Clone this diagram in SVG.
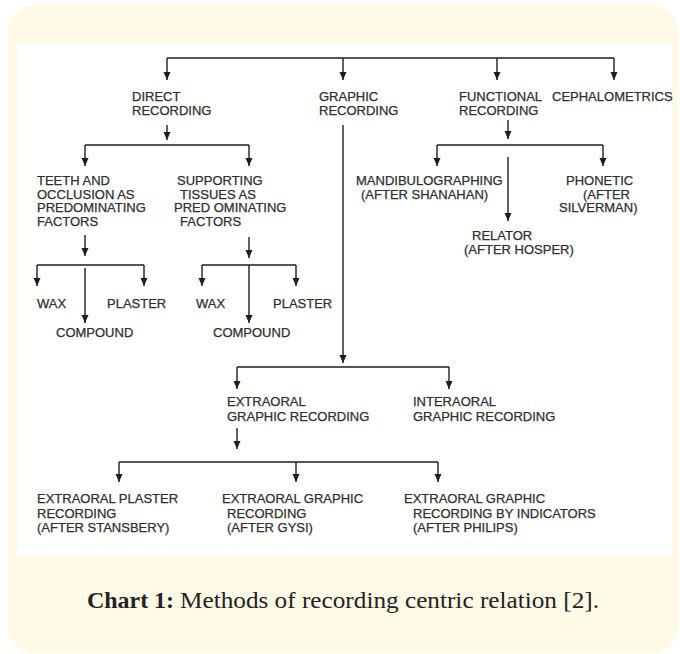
<svg xmlns="http://www.w3.org/2000/svg" width="680" height="654" viewBox="0 0 680 654">
<style>
.t{font-family:"Liberation Sans",Arial,sans-serif;font-size:13px;fill:#2e2e2e;stroke:#2e2e2e;stroke-width:0.25}
.c{stroke:#1e1e1e;stroke-width:1.4;fill:none}
.cap{font-family:"Liberation Serif","Times New Roman",serif;font-size:23px;fill:#222}
</style>
<defs>
<marker id="a" markerUnits="userSpaceOnUse" markerWidth="8" markerHeight="9" refX="8" refY="4" orient="auto" viewBox="0 0 8 8">
<path d="M0,0.5 L8,4 L0,7.5 Z" fill="#1e1e1e"/>
</marker>
</defs>
<rect x="8" y="5" width="670" height="648" rx="26" fill="#fffae6"/>
<rect x="17" y="44" width="655" height="512" fill="#ffffff"/>

<g id="connectors" class="c">
<path d="M167,58 H614"/>
<path d="M167,58 V80" marker-end="url(#a)"/>
<path d="M343,58 V80" marker-end="url(#a)"/>
<path d="M497,58 V80" marker-end="url(#a)"/>
<path d="M614,58 V80" marker-end="url(#a)"/>
<path d="M167,125 V140" marker-end="url(#a)"/>
<path d="M85,145 H249"/>
<path d="M85,145 V166" marker-end="url(#a)"/>
<path d="M249,145 V166" marker-end="url(#a)"/>
<path d="M508,120 V139" marker-end="url(#a)"/>
<path d="M437,145 H603"/>
<path d="M437,145 V166" marker-end="url(#a)"/>
<path d="M603,145 V166" marker-end="url(#a)"/>
<path d="M508,157 V221" marker-end="url(#a)"/>
<path d="M85,235 V256" marker-end="url(#a)"/>
<path d="M249,237 V258" marker-end="url(#a)"/>
<path d="M37,265 H144"/>
<path d="M37,265 V286" marker-end="url(#a)"/>
<path d="M144,265 V286" marker-end="url(#a)"/>
<path d="M85,268 V323" marker-end="url(#a)"/>
<path d="M202,265 H296"/>
<path d="M202,265 V286" marker-end="url(#a)"/>
<path d="M296,265 V286" marker-end="url(#a)"/>
<path d="M249,265 V323" marker-end="url(#a)"/>
<path d="M343,125 V363" marker-end="url(#a)"/>
<path d="M237,367 H449"/>
<path d="M237,367 V389" marker-end="url(#a)"/>
<path d="M449,367 V389" marker-end="url(#a)"/>
<path d="M237,428 V449" marker-end="url(#a)"/>
<path d="M119,462 H438"/>
<path d="M119,462 V482" marker-end="url(#a)"/>
<path d="M296,462 V482" marker-end="url(#a)"/>
<path d="M438,462 V482" marker-end="url(#a)"/>
</g>

<g id="direct-recording" class="t"><text x="132" y="100.5">DIRECT</text><text x="132" y="114.5">RECORDING</text></g>
<g id="graphic-recording" class="t"><text x="319" y="100.5">GRAPHIC</text><text x="319" y="114.5">RECORDING</text></g>
<g id="functional-recording" class="t"><text x="459" y="100.5">FUNCTIONAL</text><text x="459" y="114.5">RECORDING</text></g>
<g id="cephalometrics" class="t"><text x="552" y="100.5">CEPHALOMETRICS</text></g>

<g id="teeth-occlusion" class="t"><text x="37" y="185">TEETH AND</text><text x="37" y="198.5">OCCLUSION AS</text><text x="37" y="212">PREDOMINATING</text><text x="37" y="225.5">FACTORS</text></g>
<g id="supporting-tissues" class="t"><text x="177" y="185">SUPPORTING</text><text x="180" y="198.5">TISSUES AS</text><text x="174" y="212">PRED OMINATING</text><text x="180" y="225.5">FACTORS</text></g>

<g id="wax-1" class="t"><text x="37" y="308">WAX</text></g>
<g id="plaster-1" class="t"><text x="107" y="308">PLASTER</text></g>
<g id="compound-1" class="t"><text x="56" y="337">COMPOUND</text></g>
<g id="wax-2" class="t"><text x="196" y="308">WAX</text></g>
<g id="plaster-2" class="t"><text x="273" y="308">PLASTER</text></g>
<g id="compound-2" class="t"><text x="213" y="337">COMPOUND</text></g>

<g id="mandibulographing" class="t"><text x="356" y="185">MANDIBULOGRAPHING</text><text x="361" y="198.5">(AFTER SHANAHAN)</text></g>
<g id="phonetic" class="t"><text x="566" y="185">PHONETIC</text><text x="583" y="198.5">(AFTER</text><text x="559" y="212">SILVERMAN)</text></g>
<g id="relator" class="t"><text x="472" y="240">RELATOR</text><text x="464" y="254">(AFTER HOSPER)</text></g>

<g id="extraoral-graphic" class="t"><text x="227" y="406">EXTRAORAL</text><text x="227" y="421">GRAPHIC RECORDING</text></g>
<g id="interaoral-graphic" class="t"><text x="413" y="406">INTERAORAL</text><text x="413" y="421">GRAPHIC RECORDING</text></g>

<g id="stansbery" class="t"><text x="37" y="503">EXTRAORAL PLASTER</text><text x="37" y="518">RECORDING</text><text x="37" y="532">(AFTER STANSBERY)</text></g>
<g id="gysi" class="t"><text x="222" y="503">EXTRAORAL GRAPHIC</text><text x="227" y="518">RECORDING</text><text x="227" y="532">(AFTER GYSI)</text></g>
<g id="philips" class="t"><text x="404" y="503">EXTRAORAL GRAPHIC</text><text x="413" y="518">RECORDING BY INDICATORS</text><text x="413" y="532">(AFTER PHILIPS)</text></g>

<g id="caption">
<text class="cap" x="87" y="608" font-weight="bold" textLength="87" lengthAdjust="spacingAndGlyphs">Chart 1:</text>
<text class="cap" x="180" y="608" textLength="419" lengthAdjust="spacingAndGlyphs">Methods of recording centric relation [2].</text>
</g>
</svg>
